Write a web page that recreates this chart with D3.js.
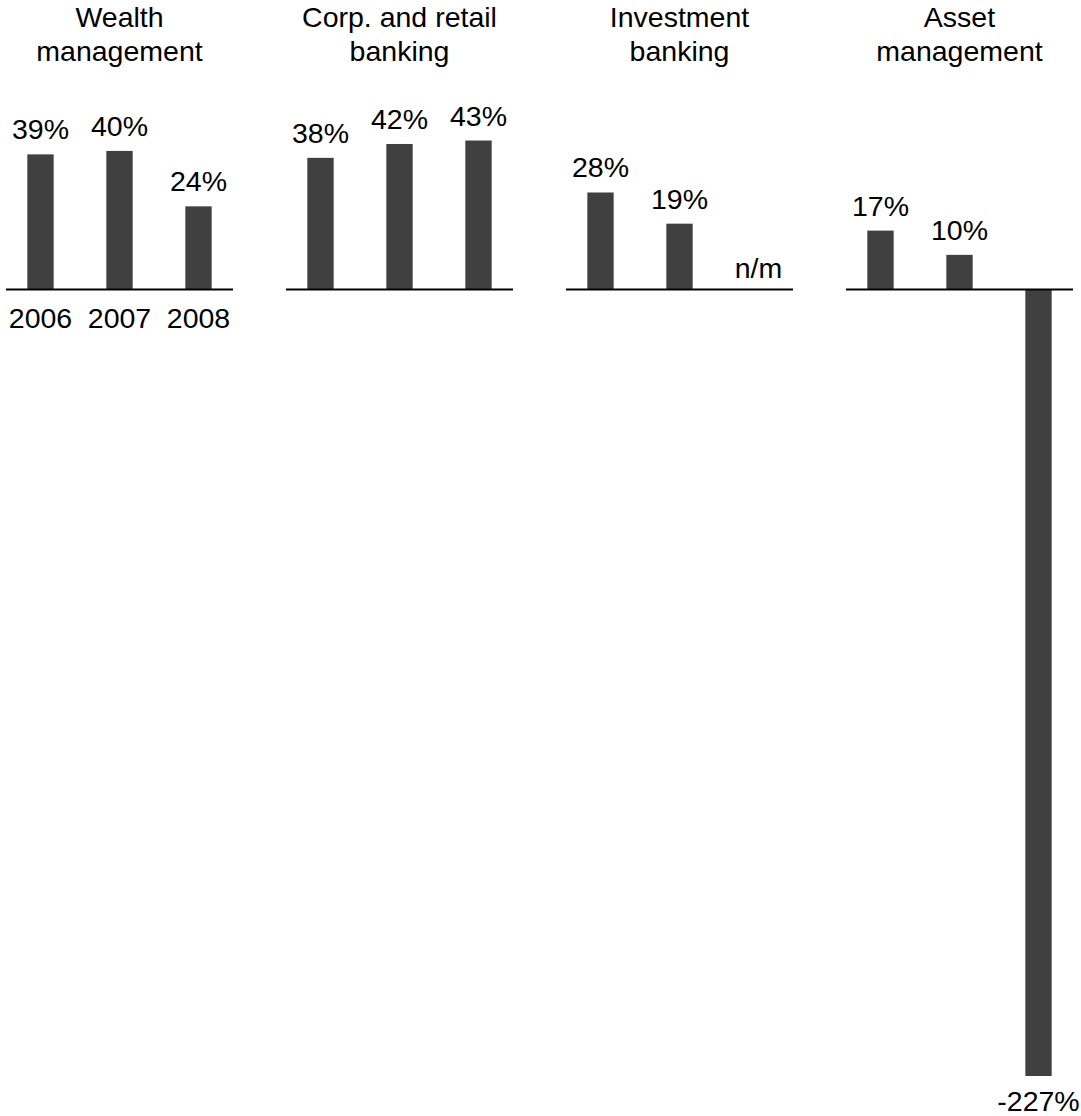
<!DOCTYPE html>
<html>
<head>
<meta charset="utf-8">
<script src="https://cdn.jsdelivr.net/npm/d3@7"></script>
<style>
  body { margin: 0; background: #fff; }
  text { font-family: "Liberation Sans", Arial, sans-serif; fill: #000; }
</style>
</head>
<body>
<div id="chart"></div>
<script>
// segment return figures, 2006-2008
var years = ["2006", "2007", "2008"];
var segments = [["Wealth", "management"], ["Corp. and retail", "banking"], ["Investment", "banking"], ["Asset", "management"]];
var wealthValues = [39, 40, 24];
var corpValues = [38, 42, 43];
var investValues = [28, 19, null];   // 2008 shown as n/m
var assetValues = [17, 10, -227];
var seriesValues = [wealthValues, corpValues, investValues, assetValues];

var width = 1081, height = 1116;
var panelW = 227, panelStep = 280, panelLeft = 6;
var fontSize = 28.5;

var svg = d3.select("#chart").append("svg")
    .attr("width", width)
    .attr("height", height);

var y = d3.scaleLinear()
    .domain([-227, 0])
    .range([1076, 289.5]);

var x = d3.scaleBand()
    .domain(years)
    .range([0, panelW])
    .paddingInner(2 / 3)
    .paddingOuter(0.27);

var fmt = function (v) { return v + "%"; };

segments.forEach(function (title, i) {
    var g = svg.append("g")
        .attr("transform", "translate(" + (panelLeft + i * panelStep) + ",0)");
    var rows = seriesValues[i].map(function (v, j) { return { year: years[j], value: v }; });

    // title, two lines
    g.selectAll("text.title")
        .data(title)
        .enter()
        .append("text")
        .attr("class", "title")
        .attr("x", panelW / 2)
        .attr("y", function (d, k) { return 27 + k * 34; })
        .attr("text-anchor", "middle")
        .style("font-size", fontSize + "px")
        .text(function (d) { return d; });

    g.selectAll("rect")
        .data(rows.filter(function (d) { return d.value !== null; }))
        .enter()
        .append("rect")
        .attr("x", function (d) { return x(d.year); })
        .attr("width", x.bandwidth())
        .attr("y", function (d) { return y(Math.max(0, d.value)); })
        .attr("height", function (d) { return Math.abs(y(d.value) - y(0)); })
        .style("fill", "#404040");

    g.append("line")
        .attr("x1", 0)
        .attr("x2", panelW)
        .attr("y1", y(0))
        .attr("y2", y(0))
        .style("stroke", "#000")
        .style("stroke-width", "2px");

    g.selectAll("text.value")
        .data(rows)
        .enter()
        .append("text")
        .attr("class", "value")
        .attr("x", function (d) { return x(d.year) + x.bandwidth() / 2; })
        .attr("y", function (d) {
            if (d.value === null) return y(0) - 12;
            return d.value < 0 ? y(d.value) + 35 : y(d.value) - 15;
        })
        .attr("text-anchor", "middle")
        .style("font-size", fontSize + "px")
        .text(function (d) { return d.value === null ? "n/m" : fmt(d.value); });

    if (i === 0) {
        g.selectAll("text.year")
            .data(years)
            .enter()
            .append("text")
            .attr("class", "year")
            .attr("x", function (d) { return x(d) + x.bandwidth() / 2; })
            .attr("y", y(0) + 38)
            .attr("text-anchor", "middle")
            .style("font-size", fontSize + "px")
            .text(function (d) { return d; });
    }
});
</script>
</body>
</html>
